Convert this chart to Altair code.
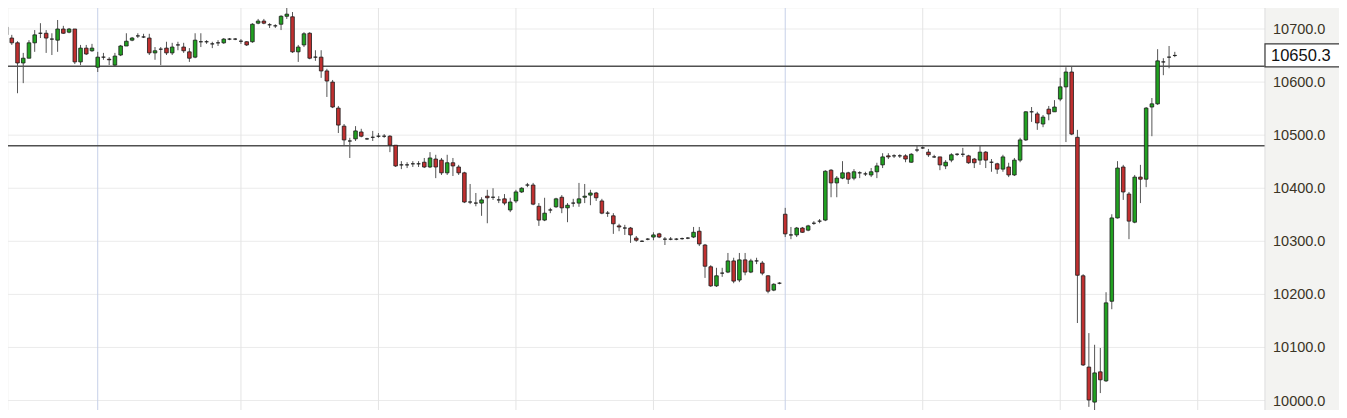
import altair as alt
import pandas as pd

# ---- data (prices) ----
opens = [10704, 10683, 10674, 10636, 10645, 10674, 10692, 10692, 10681, 10679,
         10700, 10694, 10700, 10638, 10664, 10659, 10628, 10647, 10643, 10632,
         10651, 10668, 10679, 10687, 10685, 10683, 10655, 10662, 10664, 10655,
         10670, 10666, 10657, 10647, 10676, 10676, 10672, 10674, 10674, 10681,
         10681, 10677, 10676, 10676, 10711, 10715, 10708, 10706, 10709, 10724,
         10723, 10657, 10670, 10692, 10647, 10647, 10621, 10600, 10551, 10517,
         10489, 10493, 10506, 10493, 10496, 10498, 10498, 10498, 10481, 10444,
         10444, 10446, 10446, 10449, 10440, 10455, 10453, 10429, 10448, 10440,
         10429, 10374, 10372, 10372, 10385, 10383, 10378, 10380, 10359, 10376,
         10393, 10406, 10406, 10366, 10340, 10359, 10365, 10383, 10363, 10372,
         10372, 10383, 10387, 10391, 10376, 10353, 10348, 10329, 10325, 10325,
         10306, 10300, 10304, 10308, 10314, 10304, 10304, 10304, 10305, 10306,
         10308, 10319, 10293, 10252, 10216, 10240, 10242, 10263, 10227, 10265,
         10242, 10263, 10259, 10235, 10208, 10221, 10351, 10312, 10312, 10325,
         10321, 10334, 10338, 10340, 10434, 10410, 10419, 10429, 10419, 10429,
         10427, 10425, 10431, 10444, 10461, 10461, 10461, 10461, 10449, 10472,
         10476, 10468, 10459, 10459, 10442, 10453, 10464, 10464, 10461, 10455,
         10453, 10468, 10449, 10446, 10436, 10440, 10425, 10453, 10491, 10544,
         10540, 10521, 10549, 10544, 10568, 10591, 10619, 10496, 10235, 10063,
         9997, 10054, 10037, 10187, 10344, 10440, 10389, 10336, 10421, 10417,
         10553, 10559, 10638, 10647, 10650]
highs = [10708, 10689, 10677, 10655, 10679, 10698, 10711, 10698, 10692, 10717,
         10706, 10702, 10700, 10670, 10670, 10672, 10657, 10655, 10647, 10655,
         10670, 10692, 10685, 10692, 10691, 10691, 10666, 10666, 10676, 10674,
         10676, 10674, 10664, 10692, 10692, 10679, 10676, 10679, 10683, 10683,
         10683, 10681, 10677, 10711, 10719, 10719, 10711, 10709, 10726, 10743,
         10732, 10670, 10694, 10694, 10660, 10660, 10625, 10604, 10555, 10521,
         10495, 10517, 10512, 10495, 10508, 10504, 10502, 10500, 10481, 10451,
         10449, 10451, 10451, 10457, 10468, 10463, 10457, 10463, 10457, 10444,
         10431, 10408, 10391, 10383, 10397, 10400, 10385, 10389, 10382, 10397,
         10402, 10410, 10410, 10372, 10382, 10363, 10382, 10387, 10372, 10380,
         10410, 10408, 10397, 10393, 10380, 10357, 10353, 10333, 10331, 10327,
         10310, 10302, 10306, 10317, 10316, 10308, 10308, 10306, 10307, 10308,
         10327, 10327, 10295, 10255, 10250, 10250, 10278, 10269, 10278, 10278,
         10267, 10269, 10263, 10236, 10221, 10223, 10363, 10327, 10327, 10327,
         10331, 10338, 10342, 10434, 10436, 10423, 10451, 10431, 10436, 10432,
         10431, 10438, 10448, 10466, 10466, 10464, 10464, 10464, 10466, 10481,
         10479, 10474, 10463, 10459, 10453, 10466, 10466, 10476, 10463, 10457,
         10481, 10470, 10455, 10448, 10463, 10448, 10457, 10495, 10545, 10553,
         10544, 10538, 10555, 10566, 10608, 10628, 10630, 10510, 10238, 10127,
         10105, 10099, 10204, 10351, 10451, 10444, 10393, 10425, 10444, 10553,
         10570, 10662, 10645, 10668, 10657]
lows = [10685, 10670, 10579, 10598, 10645, 10657, 10683, 10655, 10651, 10657,
        10691, 10692, 10634, 10632, 10651, 10657, 10619, 10642, 10632, 10630,
        10649, 10668, 10677, 10683, 10683, 10651, 10642, 10632, 10651, 10651,
        10660, 10655, 10638, 10645, 10666, 10672, 10664, 10668, 10672, 10679,
        10679, 10672, 10668, 10674, 10709, 10709, 10702, 10702, 10698, 10719,
        10655, 10638, 10666, 10643, 10640, 10608, 10572, 10551, 10504, 10481,
        10457, 10489, 10496, 10491, 10489, 10495, 10495, 10468, 10440, 10436,
        10438, 10440, 10440, 10438, 10438, 10419, 10425, 10425, 10423, 10425,
        10372, 10370, 10366, 10348, 10334, 10378, 10372, 10368, 10355, 10372,
        10391, 10402, 10368, 10329, 10338, 10353, 10363, 10353, 10336, 10365,
        10365, 10372, 10368, 10376, 10351, 10346, 10314, 10319, 10312, 10297,
        10299, 10299, 10302, 10302, 10306, 10293, 10302, 10302, 10303, 10304,
        10306, 10291, 10231, 10214, 10214, 10233, 10240, 10221, 10223, 10236,
        10240, 10257, 10236, 10202, 10206, 10219, 10308, 10304, 10308, 10316,
        10319, 10331, 10334, 10338, 10383, 10383, 10417, 10408, 10415, 10419,
        10423, 10421, 10419, 10438, 10455, 10457, 10457, 10449, 10448, 10468,
        10474, 10459, 10457, 10434, 10436, 10449, 10461, 10459, 10446, 10438,
        10444, 10438, 10431, 10427, 10431, 10421, 10423, 10449, 10489, 10525,
        10510, 10515, 10528, 10544, 10564, 10487, 10500, 10146, 10065, 9988,
        9969, 10014, 10035, 10172, 10343, 10378, 10304, 10334, 10372, 10402,
        10498, 10557, 10613, 10626, 10647]
closes = [10689, 10674, 10636, 10645, 10674, 10689, 10692, 10683, 10681, 10700,
          10692, 10700, 10638, 10664, 10653, 10664, 10647, 10647, 10642, 10649,
          10668, 10677, 10683, 10687, 10685, 10655, 10659, 10662, 10655, 10666,
          10670, 10659, 10645, 10679, 10676, 10676, 10672, 10674, 10681, 10681,
          10681, 10677, 10670, 10709, 10715, 10711, 10708, 10706, 10724, 10728,
          10657, 10666, 10691, 10645, 10647, 10621, 10602, 10553, 10519, 10491,
          10489, 10508, 10498, 10493, 10496, 10498, 10498, 10481, 10442, 10444,
          10444, 10446, 10446, 10440, 10457, 10440, 10429, 10448, 10442, 10429,
          10374, 10374, 10372, 10378, 10382, 10383, 10378, 10372, 10374, 10393,
          10400, 10406, 10370, 10340, 10353, 10359, 10380, 10363, 10368, 10372,
          10380, 10385, 10391, 10382, 10353, 10353, 10333, 10327, 10325, 10312,
          10302, 10300, 10304, 10312, 10308, 10304, 10304, 10304, 10305, 10306,
          10317, 10295, 10253, 10216, 10235, 10240, 10263, 10225, 10265, 10242,
          10263, 10263, 10240, 10206, 10219, 10221, 10314, 10312, 10325, 10317,
          10329, 10334, 10338, 10432, 10410, 10419, 10429, 10417, 10431, 10429,
          10427, 10431, 10442, 10459, 10459, 10461, 10461, 10455, 10464, 10472,
          10476, 10463, 10459, 10444, 10449, 10463, 10464, 10464, 10448, 10448,
          10468, 10453, 10449, 10436, 10459, 10425, 10453, 10491, 10544, 10544,
          10523, 10534, 10540, 10553, 10591, 10619, 10502, 10236, 10067, 10001,
          10052, 10039, 10184, 10344, 10438, 10393, 10338, 10421, 10417, 10551,
          10559, 10640, 10638, 10647, 10650.3]

grid_candles = [16, 41, 65, 89, 113, 136, 160, 184, 208]
session_starts = [16, 136]
level_lines = [10630, 10480]
last_price = 10650.3
tick_values = [10000, 10100, 10200, 10300, 10400, 10500, 10600, 10700]

# ---- tables ----
df = pd.DataFrame({"i": list(range(len(opens))), "o": opens, "h": highs,
                   "l": lows, "c": closes})
df["dir"] = ["up" if c > o else ("down" if c < o else "flat")
             for o, c in zip(opens, closes)]
gdf = pd.DataFrame({"g": grid_candles,
                    "kind": ["session" if g in session_starts else "time" for g in grid_candles]})
ldf = pd.DataFrame({"p": level_lines})
pdf = pd.DataFrame({"p": [last_price]})
tdf = pd.DataFrame({"t": tick_values})

W, H = 1257, 402
PAD_R = 74
xs = alt.Scale(domain=[1.212, 218.87], nice=False, zero=False)
ys = alt.Scale(domain=[9982.1, 10739.6], nice=False, zero=False)

# horizontal gridlines
hgrid = alt.Chart(tdf).mark_rule(color="#ebebeb", strokeWidth=1).encode(
    y=alt.Y("t:Q", scale=ys, axis=None)
)

# vertical gridlines
vgrid = alt.Chart(gdf).mark_rule(strokeWidth=1).encode(
    x=alt.X("g:Q", scale=xs, axis=None),
    color=alt.Color("kind:N", scale=alt.Scale(domain=["time", "session"],
                                              range=["#e4e4e4", "#c6d0e8"]), legend=None),
)

levels = alt.Chart(ldf).mark_rule(color="#505050", strokeWidth=1.5).encode(
    y=alt.Y("p:Q", scale=ys, axis=None)
)

wicks = alt.Chart(df).mark_rule(color="#555555", strokeWidth=1, clip=True).encode(
    x=alt.X("i:Q", scale=xs, axis=None),
    y=alt.Y("l:Q", scale=ys, axis=None),
    y2="h:Q",
)

bodies = alt.Chart(df).mark_bar(width=3.6, stroke="#1c1c1c", strokeWidth=0.8, clip=True).encode(
    x=alt.X("i:Q", scale=xs, axis=None),
    y=alt.Y("o:Q", scale=ys, axis=None),
    y2="c:Q",
    fill=alt.Fill("dir:N", scale=alt.Scale(domain=["up", "down", "flat"],
                                           range=["#21a121", "#c03030", "#333333"]), legend=None),
)

sep = alt.Chart(pdf).mark_rule(color="#d9d9d9", strokeWidth=1).encode(
    x=alt.value(W), y=alt.value(0), y2=alt.value(H)
)

# right-hand price labels, placed through the y scale
tick_labels = alt.Chart(tdf).mark_text(align="left", baseline="middle", font="Liberation Sans",
                                       fontSize=14.5, color="#3a3426", dy=1).encode(
    x=alt.value(W + 8),
    y=alt.Y("t:Q", scale=ys, axis=None),
    text=alt.Text("t:Q", format=".1f"),
)

box = alt.Chart(pdf).mark_rect(fill="white", stroke="#3a3a3a", strokeWidth=1.2,
                               yOffset=-11.5, y2Offset=11.5).encode(
    x=alt.value(W), x2=alt.value(W + PAD_R + 20),
    y=alt.Y("p:Q", scale=ys, axis=None), y2="p:Q",
)

price_txt = alt.Chart(pdf).mark_text(align="left", baseline="middle", font="Liberation Sans",
                                     fontSize=16.5, color="#111111", dy=0.5).encode(
    x=alt.value(W + 6),
    y=alt.Y("p:Q", scale=ys, axis=None),
    text=alt.Text("p:Q", format=".1f"),
)

chart = alt.layer(hgrid, vgrid, levels, wicks, bodies, sep, tick_labels, box, price_txt).properties(
    width=W, height=H,
    autosize=alt.AutoSizeParams(type="none"),
    padding={"left": 0, "top": 0, "right": PAD_R, "bottom": 0},
    background="#f3f3f1",
).configure_view(fill="white", stroke="transparent")

chart.save("out.html", embed_options={"renderer": "svg", "actions": False})
